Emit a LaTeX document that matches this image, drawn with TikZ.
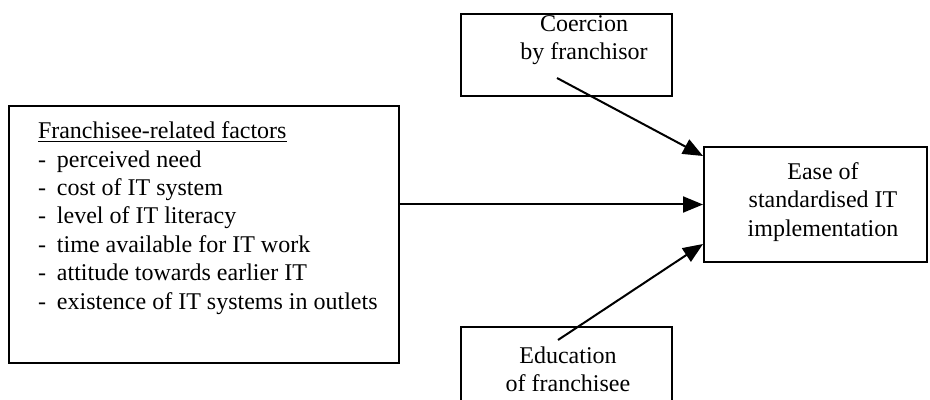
\documentclass[tikz,border=0pt]{standalone}
\usepackage{fontspec}
\setmainfont{Liberation Serif}
\usetikzlibrary{arrows.meta}
\tikzset{
  box/.style={draw, rectangle, inner sep=0pt},
  txt/.style={inner sep=0pt, font=\fontsize{12}{14.2}\selectfont},
}
\newcommand{\itm}{\makebox[9.5pt][l]{-}}
\begin{document}
\begin{tikzpicture}[x=0.5pt,y=-0.5pt,line width=1pt,>={Triangle[length=10pt,width=8pt]}]
      \useasboundingbox (0,0) rectangle (930,400);
      \clip (0,0) rectangle (930,400);
      \node[box,minimum width=195pt,minimum height=128.5pt] (factors) at (204,234.5) {};
      \node[txt,align=left,anchor=west] (factorstxt) at (37,218)
        {\underline{Franchisee-related factors}\\
         \itm perceived need\\
         \itm cost of IT system\\
         \itm level of IT literacy\\
         \itm time available for IT work\\
         \itm attitude towards earlier IT\\
         \itm existence of IT systems in outlets};
      \node[box,minimum width=105.5pt,minimum height=41pt] (coercion) at (566.5,55) {};
      \node[txt,align=center] (coerciontxt) at (584,40) {Coercion\\by franchisor};
      \node[box,minimum width=105.5pt,minimum height=41pt] (education) at (566.5,368) {};
      \node[txt,align=center] (educationtxt) at (568,369) {Education\\of franchisee};
      \node[box,minimum width=111.5pt,minimum height=57.5pt] (ease) at (815.5,204.5) {};
      \node[txt,align=center] (easetxt) at (823,202) {Ease of\\standardised IT\\implementation};
      \coordinate (c1) at (557,78); \coordinate (e1) at (558,340);
      \draw[->] (c1) to ([yshift=-5pt]ease.north west);
      \draw[->] (factors.east |- ease.west) to (ease.west);
      \draw[->] (e1) to ([yshift=9.5pt]ease.south west);
    \end{tikzpicture}
\end{document}
